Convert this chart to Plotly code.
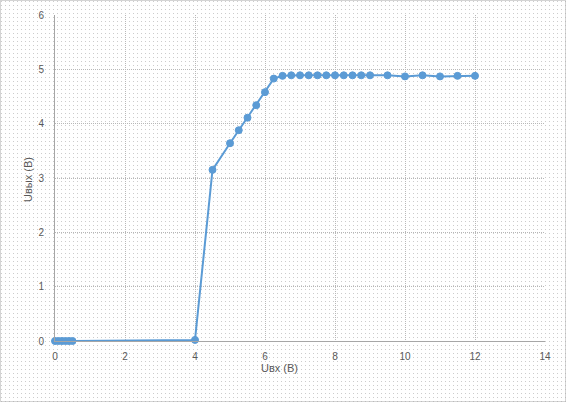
import base64
import plotly.graph_objects as go

# Data
u_in = [0, 0.1, 0.2, 0.3, 0.4, 0.5, 4.0, 4.5, 5.0, 5.25, 5.5, 5.75, 6.0, 6.25,
        6.5, 6.75, 7.0, 7.25, 7.5, 7.75, 8.0, 8.25, 8.5, 8.75, 9.0,
        9.5, 10.0, 10.5, 11.0, 11.5, 12.0]
u_out = [0, 0, 0, 0, 0, 0, 0.02, 3.15, 3.64, 3.88, 4.11, 4.34, 4.58, 4.83,
         4.88, 4.89, 4.89, 4.89, 4.89, 4.89, 4.89, 4.89, 4.89, 4.89, 4.89,
         4.89, 4.87, 4.89, 4.87, 4.88, 4.88]
x_ticks = [0, 2, 4, 6, 8, 10, 12, 14]
y_ticks = [0, 1, 2, 3, 4, 5, 6]
x_title = "Uвх (В)"
y_title = "Uвых (В)"

W, H = 566, 402
ml, mr, mt, mb = 55, 21, 15, 61
pw, ph = W - ml - mr, H - mt - mb

svg = f'''<svg xmlns="http://www.w3.org/2000/svg" width="{W}" height="{H}">
<defs><pattern id="p" x="0" y="0" width="4" height="4" patternUnits="userSpaceOnUse">
<rect x="1" y="1" width="1" height="1" fill="#cccccc"/></pattern></defs>
<rect x="0" y="0" width="{W}" height="{H}" fill="#ffffff"/>
<rect x="0" y="0" width="{W}" height="{H}" fill="url(#p)"/>
<rect x="0.5" y="0.5" width="{W-1}" height="{H-1}" fill="none" stroke="#a8a8a8" stroke-width="1" stroke-dasharray="1,1"/>
</svg>'''
src = "data:image/svg+xml;base64," + base64.b64encode(svg.encode()).decode()

blue = "#5B9BD5"
fig = go.Figure()
fig.add_trace(go.Scatter(
    x=u_in, y=u_out, mode="lines+markers",
    line=dict(color=blue, width=2),
    marker=dict(color=blue, size=7, line=dict(color=blue, width=1)),
    showlegend=False, cliponaxis=False,
))

font = dict(family="Liberation Sans, Arial, sans-serif", size=10, color="#595959")

fig.update_layout(
    width=W, height=H,
    margin=dict(l=ml, r=mr, t=mt, b=mb, autoexpand=False),
    paper_bgcolor="#ffffff",
    plot_bgcolor="rgba(0,0,0,0)",
    font=font,
    images=[dict(source=src, xref="paper", yref="paper",
                 x=-ml / pw, y=1 + mt / ph, sizex=W / pw, sizey=H / ph,
                 xanchor="left", yanchor="top", sizing="stretch", layer="below")],
    xaxis=dict(range=[0, 14], tickvals=x_ticks, showgrid=True,
               gridcolor="#b8b8b8", griddash="1px,1px", gridwidth=1,
               zeroline=False, showline=True, linecolor="#a6a6a6", linewidth=1,
               ticks="", ticklabelstandoff=6, tickfont=font),
    yaxis=dict(range=[0, 6], tickvals=y_ticks, showgrid=True,
               gridcolor="#b8b8b8", griddash="1px,1px", gridwidth=1,
               zeroline=False, showline=True, linecolor="#a6a6a6", linewidth=1,
               ticks="", ticklabelstandoff=8, tickfont=font),
    annotations=[
        dict(text=x_title, xref="paper", yref="paper", x=(279 - ml) / pw,
             y=(ph + mt - 368) / ph, showarrow=False, font=dict(font, size=11),
             xanchor="center", yanchor="middle"),
        dict(text=y_title, xref="paper", yref="paper", x=(28 - ml) / pw,
             y=(ph + mt - 180) / ph, showarrow=False, font=dict(font, size=11),
             textangle=-90, xanchor="center", yanchor="middle"),
    ],
)

fig.write_html(
    "out.html",
    config={"displayModeBar": False},
    post_script="document.body.style.margin='0';document.body.style.padding='0';",
)
